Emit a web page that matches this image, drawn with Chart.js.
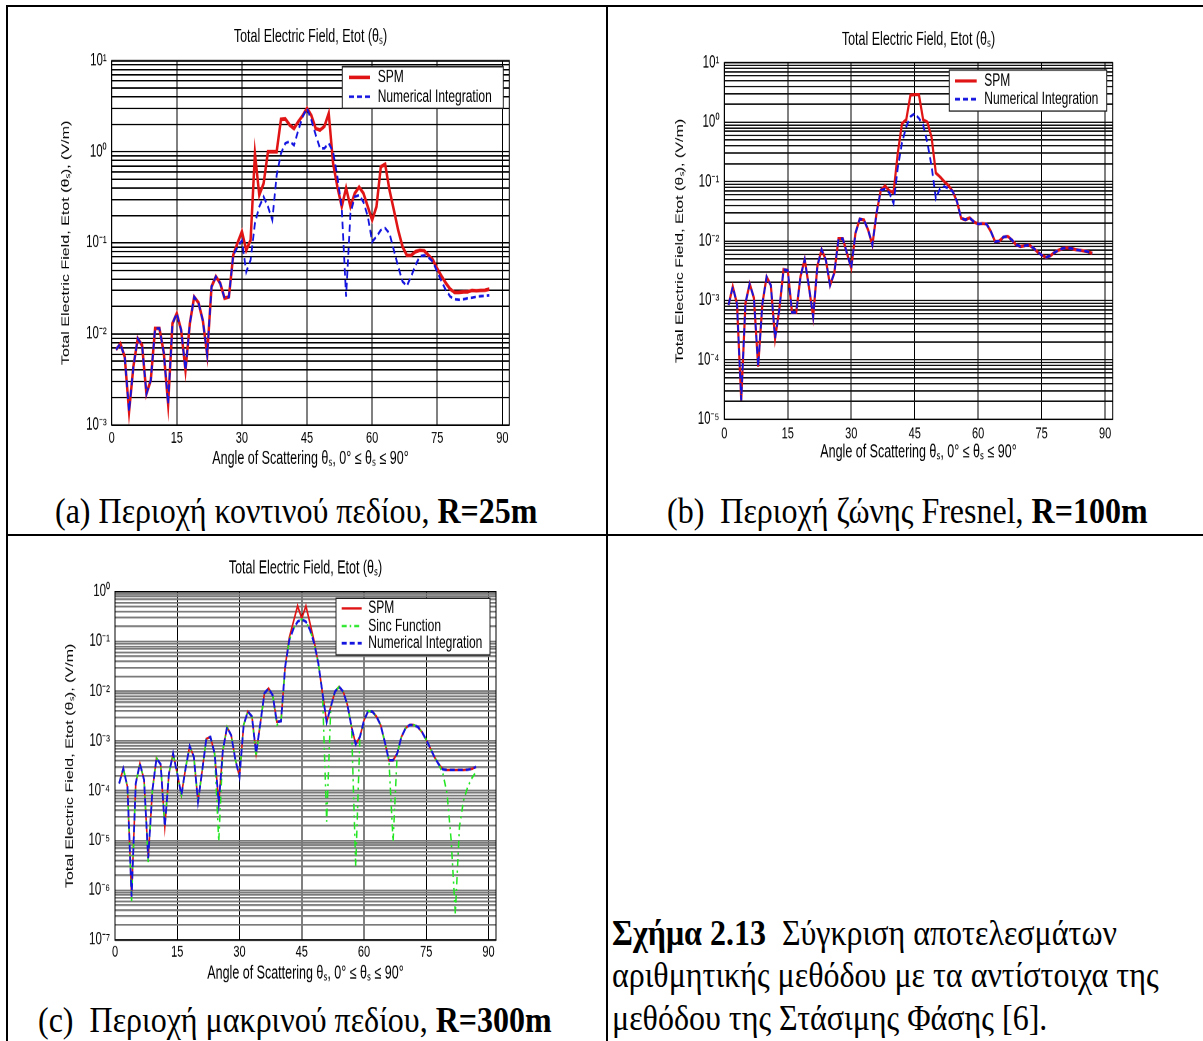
<!DOCTYPE html>
<html>
<head>
<meta charset="utf-8">
<script src="https://cdn.jsdelivr.net/npm/chart.js@4.4.0/dist/chart.umd.min.js"></script>
<style>
  html, body { margin: 0; padding: 0; background: #fff; }
  body { width: 1203px; height: 1041px; position: relative; overflow: hidden; }
  .rule { position: absolute; background: #000; }
  .plot { position: absolute; transform-origin: 0 0; transform: scaleY(1.46); }
  .cap {
    position: absolute; white-space: nowrap; color: #000;
    font-family: 'Liberation Serif', 'Times New Roman', serif;
    font-size: 32px; line-height: 32px;
    transform-origin: 0 0; transform: scaleY(1.12);
  }
</style>
</head>
<body>
<div class="rule" style="left:6px;top:5px;width:1197px;height:2px"></div>
<div class="rule" style="left:6px;top:5px;width:2px;height:1036px"></div>
<div class="rule" style="left:606px;top:5px;width:2px;height:1036px"></div>
<div class="rule" style="left:6px;top:534px;width:1197px;height:2px"></div>

<div class="plot" style="left:20px;top:15px"><canvas id="chartA" width="510" height="318"></canvas></div>
<div class="plot" style="left:620px;top:15px"><canvas id="chartB" width="510" height="318"></canvas></div>
<div class="plot" style="left:20px;top:545px"><canvas id="chartC" width="510" height="305"></canvas></div>

<div class="cap" style="left:55px;top:493px">(a) Περιοχή κοντινού πεδίου, <b>R=25m</b></div>
<div class="cap" style="left:667px;top:493px">(b)&nbsp; Περιοχή ζώνης Fresnel, <b>R=100m</b></div>
<div class="cap" style="left:38px;top:1002px">(c)&nbsp; Περιοχή μακρινού πεδίου, <b>R=300m</b></div>
<div class="cap" style="left:612px;top:911px;line-height:38px"><b>Σχήμα 2.13</b>&nbsp; Σύγκριση αποτελεσμάτων<br>αριθμητικής μεθόδου με τα αντίστοιχα της<br>μεθόδου της Στάσιμης Φάσης [6].</div>

<script>
// scattering angle samples (degrees)
const angles = [
  1, 2, 3, 4, 5, 6, 7, 8, 9, 10, 11, 12, 13, 14, 15, 16, 17, 18, 19, 20,
  21, 22, 23, 24, 25, 26, 27, 28, 29, 30, 31, 32, 33, 34, 35, 36, 37, 38, 39, 40,
  41, 42, 43, 44, 45, 46, 47, 48, 49, 50, 51, 52, 53, 54, 55, 56, 57, 58, 59, 60,
  61, 62, 63, 64, 65, 66, 67, 68, 69, 70, 71, 72, 73, 74, 75, 76, 77, 78, 79, 80,
  81, 82, 83, 84, 85, 86, 87
];
const xTicks = [0, 15, 30, 45, 60, 75, 90];

// (a) near field, R = 25 m
const decA = [-3, -2, -1, 0, 1];
const spmA = [
  0.0067, 0.0078, 0.0056, 0.0014, 0.0044, 0.0089, 0.0075, 0.0022, 0.0031, 0.0115,
  0.0115, 0.0062, 0.0017, 0.013, 0.0168, 0.011, 0.0040, 0.013, 0.0255, 0.022,
  0.014, 0.0059, 0.033, 0.0426, 0.036, 0.0247, 0.0255, 0.0735, 0.10, 0.133,
  0.083, 0.107, 0.96, 0.335, 0.45, 1.0, 1.0, 1.0, 2.27, 2.3,
  1.97, 1.8, 2.15, 2.5, 3.0, 2.5, 1.8, 1.73, 1.9, 2.64,
  0.75, 0.41, 0.25, 0.40, 0.25, 0.35, 0.41, 0.35, 0.25, 0.178,
  0.25, 0.685, 0.73, 0.38, 0.23, 0.138, 0.091, 0.073, 0.073, 0.08,
  0.083, 0.082, 0.073, 0.065, 0.052, 0.043, 0.036, 0.031, 0.0285, 0.0285,
  0.029, 0.029, 0.030, 0.0298, 0.030, 0.0302, 0.031
];
const numA = [
  0.0067, 0.0078, 0.0056, 0.0014, 0.0044, 0.0089, 0.0075, 0.0022, 0.0031, 0.0115,
  0.0115, 0.0062, 0.0017, 0.013, 0.0168, 0.011, 0.0040, 0.013, 0.0255, 0.022,
  0.014, 0.0059, 0.033, 0.0426, 0.036, 0.0247, 0.0255, 0.0735, 0.09, 0.106,
  0.048, 0.065, 0.164, 0.25, 0.32, 0.25, 0.178, 0.55, 0.96, 1.24,
  1.3, 1.18, 1.73, 2.43, 3.0, 2.23, 1.53, 1.09, 1.09, 1.24,
  1.0, 0.53, 0.24, 0.0257, 0.21, 0.32, 0.335, 0.28, 0.195, 0.103,
  0.117, 0.138, 0.145, 0.127, 0.083, 0.055, 0.0376, 0.0336, 0.043, 0.057,
  0.071, 0.073, 0.069, 0.062, 0.048, 0.0376, 0.0302, 0.0257, 0.024, 0.0237,
  0.024, 0.0247, 0.025, 0.0255, 0.026, 0.0262, 0.0266
];

// (b) Fresnel zone, R = 100 m
const decB = [-5, -4, -3, -2, -1, 0, 1];
const spmB = [
  0.00084, 0.0017, 0.00088, 0.000021, 0.0009, 0.0019, 0.0011, 0.000077, 0.00088, 0.0025,
  0.0018, 0.00023, 0.0007, 0.0033, 0.0032, 0.00063, 0.00063, 0.0025, 0.0049, 0.0017,
  0.00053, 0.0038, 0.0072, 0.0048, 0.0018, 0.0029, 0.011, 0.011, 0.0062, 0.0035,
  0.0135, 0.0234, 0.0228, 0.0153, 0.0086, 0.03, 0.072, 0.085, 0.07, 0.065,
  0.3, 0.95, 1.1, 2.86, 2.9, 2.9, 1.1, 1.0, 0.55, 0.14,
  0.12, 0.1, 0.086, 0.068, 0.046, 0.024, 0.0228, 0.0245, 0.021, 0.0193,
  0.0197, 0.0193, 0.0145, 0.0098, 0.01, 0.0117, 0.012, 0.0104, 0.0086, 0.0081,
  0.0083, 0.0086, 0.0077, 0.0066, 0.0058, 0.0053, 0.0056, 0.0064, 0.0070, 0.0075,
  0.0077, 0.0075, 0.0072, 0.0070, 0.0068, 0.0066, 0.0062
];
const numB = [
  0.00084, 0.0017, 0.00088, 0.000021, 0.0009, 0.0019, 0.0011, 0.000077, 0.00088, 0.0025,
  0.0018, 0.00023, 0.0007, 0.0033, 0.0032, 0.00063, 0.00063, 0.0025, 0.0049, 0.0017,
  0.00053, 0.0038, 0.0072, 0.0048, 0.0018, 0.0029, 0.011, 0.011, 0.0062, 0.0035,
  0.0135, 0.0234, 0.0228, 0.0153, 0.0086, 0.03, 0.072, 0.075, 0.065, 0.043,
  0.17, 0.45, 0.84, 1.24, 1.4, 1.16, 0.9, 0.45, 0.18, 0.052,
  0.077, 0.083, 0.077, 0.068, 0.046, 0.024, 0.0228, 0.0245, 0.021, 0.0193,
  0.0197, 0.0193, 0.0145, 0.0098, 0.01, 0.0117, 0.012, 0.0104, 0.0086, 0.0081,
  0.0083, 0.0086, 0.0077, 0.0066, 0.0058, 0.0053, 0.0056, 0.0064, 0.0070, 0.0075,
  0.0077, 0.0075, 0.0072, 0.0070, 0.0068, 0.0066, 0.0062
];

// (c) far field, R = 300 m
const decC = [-7, -6, -5, -4, -3, -2, -1, 0];
const spmC = [
  1.4e-4, 2.8e-4, 1.2e-4, 7.4e-7, 1.4e-4, 3.5e-4, 1.66e-4, 4.4e-6, 1.0e-4, 4.5e-4,
  3.4e-4, 1.9e-5, 2.2e-4, 5.6e-4, 2.2e-4, 8.2e-5, 2.8e-4, 7.9e-4, 4.8e-4, 6.0e-5,
  2.5e-4, 1.1e-3, 1.2e-3, 5.6e-4, 5.6e-5, 6.6e-4, 1.9e-3, 1.3e-3, 4.2e-4, 1.9e-4,
  2.1e-3, 3.9e-3, 3.1e-3, 5.6e-4, 2.2e-3, 9.1e-3, 0.0114, 8.3e-3, 2.4e-3, 2.5e-3,
  0.031, 0.12, 0.25, 0.52, 0.29, 0.52, 0.23, 0.1, 0.036, 9.1e-3,
  2.4e-3, 4.9e-3, 9.8e-3, 0.0123, 9.8e-3, 5.3e-3, 1.9e-3, 8.6e-4, 1.2e-3, 2.6e-3,
  4.0e-3, 3.9e-3, 3.1e-3, 2.1e-3, 9.6e-4, 4.1e-4, 4.1e-4, 5.6e-4, 1.2e-3, 1.8e-3,
  2.1e-3, 2.1e-3, 1.9e-3, 1.5e-3, 1.05e-3, 7.1e-4, 4.7e-4, 3.4e-4, 2.7e-4, 2.6e-4,
  2.6e-4, 2.6e-4, 2.6e-4, 2.6e-4, 2.65e-4, 2.75e-4, 3.0e-4
];
const sincC = [
  1.4e-4, 2.8e-4, 1.2e-4, 6.0e-7, 1.4e-4, 3.5e-4, 1.66e-4, 3.7e-6, 1.0e-4, 4.5e-4,
  3.4e-4, 1.9e-5, 2.2e-4, 5.6e-4, 2.2e-4, 8.2e-5, 2.8e-4, 7.9e-4, 4.8e-4, 6.0e-5,
  2.5e-4, 1.1e-3, 1.2e-3, 5.6e-4, 9.5e-6, 6.6e-4, 1.9e-3, 1.3e-3, 4.2e-4, 1.9e-4,
  2.1e-3, 3.9e-3, 3.1e-3, 4.8e-4, 2.2e-3, 9.1e-3, 0.0114, 8.3e-3, 2.1e-3, 2.5e-3,
  0.031, 0.107, 0.18, 0.25, 0.28, 0.25, 0.17, 0.091, 0.036, 9.1e-3,
  2.4e-5, 4.9e-3, 9.8e-3, 0.0123, 9.8e-3, 5.3e-3, 1.9e-3, 3.0e-6, 1.1e-3, 2.6e-3,
  4.0e-3, 3.9e-3, 3.1e-3, 2.1e-3, 9.6e-4, 4.1e-4, 9.5e-6, 5.6e-4, 1.2e-3, 1.8e-3,
  2.1e-3, 2.1e-3, 1.9e-3, 1.5e-3, 1.05e-3, 7.1e-4, 4.7e-4, 3.4e-4, 2.2e-4, 8.9e-5,
  1.0e-5, 3.4e-7, 1.9e-5, 6.5e-5, 1.2e-4, 1.8e-4, 2.4e-4
];
const numC = [
  1.4e-4, 2.8e-4, 1.2e-4, 7.4e-7, 1.4e-4, 3.5e-4, 1.66e-4, 4.4e-6, 1.0e-4, 4.5e-4,
  3.4e-4, 1.9e-5, 2.2e-4, 5.6e-4, 2.2e-4, 8.2e-5, 2.8e-4, 7.9e-4, 4.8e-4, 6.0e-5,
  2.5e-4, 1.1e-3, 1.2e-3, 5.6e-4, 5.6e-5, 6.6e-4, 1.9e-3, 1.3e-3, 4.2e-4, 1.9e-4,
  2.1e-3, 3.9e-3, 3.1e-3, 5.6e-4, 2.2e-3, 9.1e-3, 0.0114, 8.3e-3, 2.4e-3, 2.5e-3,
  0.031, 0.107, 0.18, 0.25, 0.28, 0.25, 0.17, 0.091, 0.036, 9.1e-3,
  2.4e-3, 4.9e-3, 9.8e-3, 0.0123, 9.8e-3, 5.3e-3, 1.9e-3, 8.6e-4, 1.2e-3, 2.6e-3,
  4.0e-3, 3.9e-3, 3.1e-3, 2.1e-3, 9.6e-4, 4.1e-4, 4.1e-4, 5.6e-4, 1.2e-3, 1.8e-3,
  2.1e-3, 2.1e-3, 1.9e-3, 1.5e-3, 1.05e-3, 7.1e-4, 4.7e-4, 3.4e-4, 2.7e-4, 2.6e-4,
  2.6e-4, 2.6e-4, 2.6e-4, 2.6e-4, 2.65e-4, 2.75e-4, 3.0e-4
];

const SANS = "'Liberation Sans', Arial, sans-serif";
const RED = '#e01414';
const BLUE = '#1414e0';
const GREEN = '#22e622';
const SUP = { '0': '⁰', '1': '¹', '2': '²', '3': '³', '4': '⁴', '5': '⁵', '6': '⁶', '7': '⁷', '8': '⁸', '9': '⁹', '-': '⁻' };

function decadeLabel(v) {
  const e = Math.log10(v);
  if (Math.abs(e - Math.round(e)) > 1e-9) {
    return '';
  }
  return '10' + String(Math.round(e)).split('').map(function (c) { return SUP[c]; }).join('');
}

// 1..9 x 10^e for each decade, so every minor log gridline is drawn
function logTicks(decades) {
  const out = [];
  for (let i = 0; i < decades.length - 1; i++) {
    for (let m = 1; m < 10; m++) {
      out.push({ value: Number(m + 'e' + decades[i]) });
    }
  }
  out.push({ value: Number('1e' + decades[decades.length - 1]) });
  return out;
}

// axes box plus the inset legend
const frameBox = {
  id: 'frameBox',
  afterDatasetsDraw(chart, args, opts) {
    const ctx = chart.ctx;
    const a = chart.chartArea;
    ctx.save();
    ctx.strokeStyle = '#000';
    ctx.lineWidth = 1;
    ctx.setLineDash([]);
    ctx.strokeRect(a.left, a.top, a.right - a.left, a.bottom - a.top);
    const lg = opts.legend;
    if (lg) {
      ctx.fillStyle = '#fff';
      ctx.fillRect(lg.left, lg.top, lg.right - lg.left, lg.bottom - lg.top);
      ctx.strokeStyle = '#222';
      ctx.strokeRect(lg.left, lg.top, lg.right - lg.left, lg.bottom - lg.top);
      ctx.font = '12px ' + SANS;
      ctx.textBaseline = 'middle';
      ctx.textAlign = 'left';
      lg.items.forEach(function (idx, row) {
        const ds = chart.data.datasets[idx];
        const y = lg.rows[row];
        ctx.beginPath();
        ctx.setLineDash(ds.borderDash || []);
        ctx.strokeStyle = ds.borderColor;
        ctx.lineWidth = ds.borderWidth;
        ctx.moveTo(lg.lineX[0], y);
        ctx.lineTo(lg.lineX[1], y);
        ctx.stroke();
        ctx.setLineDash([]);
        ctx.fillStyle = '#000';
        ctx.fillText(ds.label, lg.textX, y);
      });
    }
    ctx.restore();
  }
};

function crearGrafico(id, cfg) {
  const canvas = document.getElementById(id);
  const datasets = cfg.series.map(function (s) {
    return {
      label: s.label,
      data: angles.map(function (a, i) { return { x: a, y: s.values[i] }; }),
      borderColor: s.color,
      borderWidth: s.width,
      borderDash: s.dash,
      pointRadius: 0,
      fill: false,
      tension: 0,
      order: s.order
    };
  });

  return new Chart(canvas, {
    type: 'line',
    data: { datasets: datasets },
    options: {
      responsive: false,
      animation: false,
      devicePixelRatio: 2,
      events: [],
      layout: { padding: { left: 0, right: cfg.padRight, top: 0, bottom: 0 } },
      plugins: {
        legend: { display: false },
        tooltip: { enabled: false },
        title: {
          display: true,
          fullSize: false,
          text: 'Total Electric Field, Etot (θₛ)',
          color: '#000',
          font: { family: SANS, size: 12.5, weight: 'normal' },
          padding: { top: cfg.titlePad[0], bottom: cfg.titlePad[1] }
        },
        frameBox: { legend: cfg.legend }
      },
      scales: {
        x: {
          type: 'linear',
          min: 0,
          max: cfg.xMax,
          afterBuildTicks: function (sc) { sc.ticks = xTicks.map(function (v) { return { value: v }; }); },
          afterFit: function (sc) { sc.height = cfg.xAxisHeight; },
          border: { display: false },
          grid: { color: '#000', lineWidth: 1, drawTicks: false },
          ticks: {
            autoSkip: false, maxRotation: 0, padding: cfg.xTickPad, color: '#000',
            font: { family: SANS, size: 11 },
            callback: function (v) { return String(v); }
          },
          title: {
            display: true,
            text: 'Angle of Scattering θₛ, 0° ≤ θₛ ≤ 90°',
            color: '#000',
            font: { family: SANS, size: 12.5 },
            padding: { top: 0, bottom: cfg.xTitlePad }
          }
        },
        y: {
          type: 'logarithmic',
          min: Number('1e' + cfg.decades[0]),
          max: Number('1e' + cfg.decades[cfg.decades.length - 1]),
          afterBuildTicks: function (sc) { sc.ticks = logTicks(cfg.decades); },
          afterFit: function (sc) { sc.width = cfg.yAxisWidth; },
          border: { display: false },
          grid: { color: cfg.hGrid, lineWidth: cfg.hGridWidth, drawTicks: false },
          ticks: {
            autoSkip: false, padding: 5, color: '#000',
            font: { family: SANS, size: 11.5 },
            callback: function (v) { return decadeLabel(v); }
          },
          title: {
            display: true,
            text: 'Total Electric Field, Etot (θₛ), (V/m)',
            color: '#000',
            font: { family: SANS, size: 11 },
            padding: { top: cfg.yTitlePad, bottom: 0 }
          }
        }
      }
    },
    plugins: [frameBox]
  });
}

crearGrafico('chartA', {
  decades: decA, xMax: 91.6,
  yAxisWidth: 91.7, padRight: 20.7, xAxisHeight: 37.2,
  titlePad: [7.4, 8.9], xTitlePad: 6.4, xTickPad: 2.4, yTitlePad: 39.4,
  hGrid: '#000', hGridWidth: 1,
  series: [
    { label: 'SPM', values: spmA, color: RED, width: 2.5, dash: [], order: 2 },
    { label: 'Numerical Integration', values: numA, color: BLUE, width: 1.8, dash: [5, 3], order: 0 }
  ],
  legend: { left: 322.3, top: 35.4, right: 483.3, bottom: 63.9, rows: [42.7, 56], lineX: [329, 350], textX: 357.7, items: [0, 1] }
});

crearGrafico('chartB', {
  decades: decB, xMax: 91.8,
  yAxisWidth: 104.3, padRight: 17.3, xAxisHeight: 41.1,
  titlePad: [9.6, 8.1], xTitlePad: 11.2, xTickPad: 3.3, yTitlePad: 53.4,
  hGrid: '#111', hGridWidth: 1,
  series: [
    { label: 'SPM', values: spmB, color: RED, width: 2.2, dash: [], order: 2 },
    { label: 'Numerical Integration', values: numB, color: BLUE, width: 1.8, dash: [5, 3], order: 0 }
  ],
  legend: { left: 329.3, top: 37.7, right: 486.7, bottom: 65.8, rows: [45.2, 57.7], lineX: [335, 356.7], textX: 364.3, items: [0, 1] }
});

crearGrafico('chartC', {
  decades: decC, xMax: 91.8,
  yAxisWidth: 95, padRight: 34, xAxisHeight: 34.5,
  titlePad: [8.5, 8.5], xTitlePad: 4.1, xTickPad: 1.8, yTitlePad: 43.4,
  hGrid: '#7a7a7a', hGridWidth: 1.2,
  series: [
    { label: 'SPM', values: spmC, color: RED, width: 1.6, dash: [], order: 2 },
    { label: 'Sinc Function', values: sincC, color: GREEN, width: 1.5, dash: [5, 3, 1.5, 3], order: 1 },
    { label: 'Numerical Integration', values: numC, color: BLUE, width: 1.8, dash: [5, 3], order: 0 }
  ],
  legend: { left: 316, top: 36.5, right: 470, bottom: 75.3, rows: [43.4, 55.5, 67.3], lineX: [321.7, 341.7], textX: 348.3, items: [0, 1, 2] }
});
</script>
</body>
</html>
